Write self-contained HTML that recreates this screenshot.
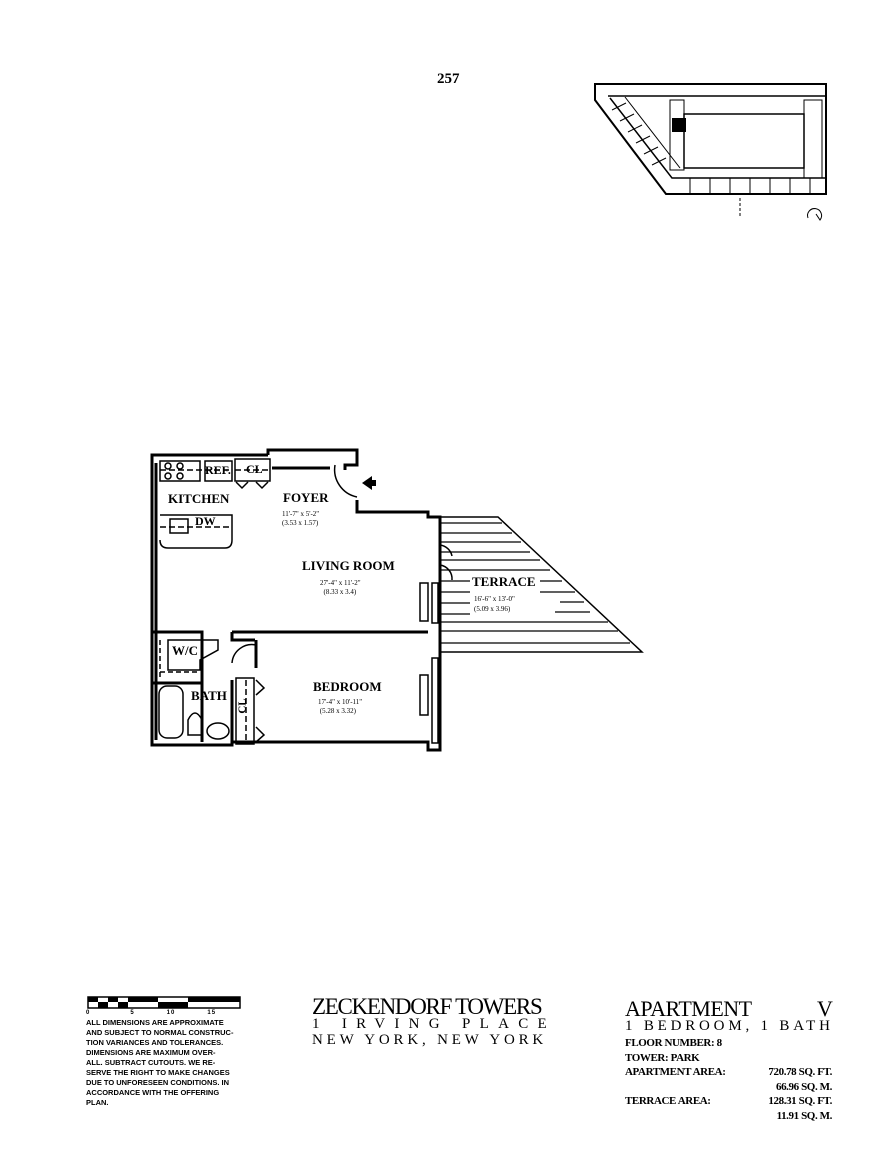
<!DOCTYPE html>
<html><head><meta charset="utf-8"><style>
body{margin:0;background:#fff;}
.p{position:relative;width:884px;height:1152px;overflow:hidden;background:#fff;}
svg{position:absolute;left:0;top:0}
.t{position:absolute;font-family:"Liberation Serif",serif;color:#000;white-space:nowrap}
.s{font-family:"Liberation Sans",sans-serif;font-weight:bold;}
</style></head><body><div class="p">
<svg width="884" height="1152" viewBox="0 0 884 1152" fill="none" stroke="#000">
<g stroke-width="2">
<polygon points="595,84 826,84 826,194 666,194 595,100" />
<polyline points="608,96 826,96" stroke-width="1.5"/>
<polyline points="610,98 672,178 826,178" stroke-width="1.5"/>
<polyline points="625,97 680,168" stroke-width="1"/>
<rect x="684" y="114" width="120" height="54" stroke-width="1.5"/>
<rect x="670" y="100" width="14" height="70" stroke-width="1"/>
<rect x="804" y="100" width="18" height="78" stroke-width="1"/>
</g>
<g stroke-width="1">
<line x1="612" y1="110" x2="626" y2="103"/><line x1="620" y1="121" x2="634" y2="114"/><line x1="628" y1="132" x2="642" y2="125"/><line x1="636" y1="143" x2="650" y2="136"/><line x1="644" y1="154" x2="658" y2="147"/><line x1="652" y1="165" x2="666" y2="158"/>
<line x1="690" y1="178" x2="690" y2="194"/><line x1="710" y1="178" x2="710" y2="194"/><line x1="730" y1="178" x2="730" y2="194"/><line x1="750" y1="178" x2="750" y2="194"/><line x1="770" y1="178" x2="770" y2="194"/><line x1="790" y1="178" x2="790" y2="194"/><line x1="810" y1="178" x2="810" y2="194"/>
<line x1="740" y1="198" x2="740" y2="218" stroke-dasharray="3,2"/>
<path d="M808,218 a7,7 0 1 1 12,2 l-4,-6"/>
</g>
<rect x="672" y="118" width="14" height="14" fill="#000" stroke="none"/>
<g stroke-width="3" stroke-linejoin="miter">
<polyline points="268,455 152,455 152,745 232,745 232,742 428,742 428,750 440,750 440,517 428,517 428,512 357,512 357,500"/>
<polyline points="268,455 268,450 357,450 357,465 345,465 345,470"/>
<polyline points="272,468 330,468"/>
<polyline points="156,463 156,740"/>
<polyline points="232,632 428,632"/>
<polyline points="232,632 232,640 255,640"/>
<polyline points="152,632 202,632 202,742"/>
<polyline points="232,680 232,742"/>
<polyline points="152,683 202,683"/>
<polyline points="256,640 256,668"/>
</g>
<g stroke-width="1.5">
<rect x="160" y="461" width="40" height="20"/>
<circle cx="168" cy="466" r="3"/><circle cx="180" cy="466" r="3"/><circle cx="168" cy="476" r="3"/><circle cx="180" cy="476" r="3"/>
<line x1="160" y1="470" x2="232" y2="470" stroke-dasharray="6,3"/>
<rect x="205" y="461" width="27" height="20"/>
<rect x="235" y="459" width="35" height="22"/>
<line x1="235" y1="470" x2="270" y2="470" stroke-dasharray="6,3"/>
<polyline points="236,482 242,488 248,482"/><polyline points="256,482 262,488 268,482"/>
<path d="M160,515 L232,515 L232,540 Q232,548 225,548 L168,548 Q160,548 160,540"/>
<rect x="170" y="519" width="18" height="14"/>
<line x1="160" y1="527" x2="232" y2="527" stroke-dasharray="6,3"/>
<path d="M335,465 A28,28 0 0 0 357,497"/>
<rect x="420" y="583" width="8" height="38"/>
<rect x="432" y="583" width="6" height="40"/>
<rect x="432" y="658" width="6" height="85"/>
<rect x="420" y="675" width="8" height="40"/>
<path d="M440,545 A14,14 0 0 1 452,556"/><path d="M440,565 A14,14 0 0 1 452,580"/>
<polyline points="440,517 498,517 642,652 440,652"/>
<g stroke-width="1.2">
<line x1="440" y1="542" x2="521" y2="542"/><line x1="440" y1="560" x2="540" y2="560"/><line x1="440" y1="581" x2="470" y2="581"/><line x1="540" y1="581" x2="562" y2="581"/>
<line x1="540" y1="592" x2="575" y2="592"/><line x1="560" y1="602" x2="584" y2="602"/><line x1="440" y1="603" x2="470" y2="603"/>
<line x1="555" y1="612" x2="590" y2="612"/><line x1="440" y1="614" x2="470" y2="614"/>
<line x1="440" y1="631" x2="618" y2="631"/><line x1="440" y1="643" x2="630" y2="643"/>
<line x1="440" y1="523" x2="502" y2="523"/><line x1="440" y1="533" x2="512" y2="533"/><line x1="440" y1="552" x2="530" y2="552"/><line x1="440" y1="570" x2="550" y2="570"/><line x1="440" y1="592" x2="470" y2="592"/><line x1="440" y1="622" x2="608" y2="622"/>
</g>
<path d="M168,640 L168,670 L200,670 L200,660 L218,650 L218,640 Z"/>
<line x1="160" y1="640" x2="160" y2="680" stroke-dasharray="5,3"/>
<line x1="160" y1="672" x2="200" y2="672" stroke-dasharray="5,3"/>
<path d="M232,663 A20,20 0 0 1 256,645" />
<rect x="159" y="686" width="24" height="52" rx="8"/>
<path d="M188,735 L188,720 Q195,706 202,720 L202,735 Z"/>
<ellipse cx="218" cy="731" rx="11" ry="8"/>
<rect x="236" y="678" width="18" height="66"/>
<line x1="246" y1="680" x2="246" y2="742" stroke-dasharray="6,3"/>
<polyline points="256,680 264,688 256,695"/><polyline points="256,727 264,735 256,742"/>
</g>
<polygon points="362,483 372,476 372,490" fill="#000" stroke="none"/>
<rect x="372" y="480" width="4" height="6" fill="#000" stroke="none"/>
<rect x="88" y="997" width="152" height="11" stroke-width="1.5"/>
<g fill="#000" stroke="none">
<rect x="88" y="997" width="10" height="5"/><rect x="108" y="997" width="10" height="5"/><rect x="98" y="1002" width="10" height="6"/><rect x="118" y="1002" width="10" height="6"/>
<rect x="128" y="997" width="30" height="5"/><rect x="158" y="1002" width="30" height="6"/><rect x="188" y="997" width="52" height="5"/>
</g>
</svg>
<div class="t" style="left:437px;top:71px;font-size:15px;font-weight:bold">257</div>
<div class="t" style="left:168px;top:491px;font-size:13px;font-weight:bold">KITCHEN</div>
<div class="t" style="left:283px;top:490px;font-size:13px;font-weight:bold">FOYER</div>
<div class="t" style="left:282px;top:510px;font-size:7px;line-height:9px">11'-7" x 5'-2"<br>(3.53 x 1.57)</div>
<div class="t" style="left:205px;top:463px;font-size:12px;font-weight:bold">REF.</div>
<div class="t" style="left:246px;top:462px;font-size:12px;font-weight:bold">CL</div>
<div class="t" style="left:195px;top:514px;font-size:12px;font-weight:bold">DW</div>
<div class="t" style="left:302px;top:558px;font-size:13px;font-weight:bold">LIVING ROOM</div>
<div class="t" style="left:320px;top:579px;font-size:7px;line-height:9px">27'-4" x 11'-2"<br>&nbsp;&nbsp;(8.33 x 3.4)</div>
<div class="t" style="left:472px;top:574px;font-size:13px;font-weight:bold">TERRACE</div>
<div class="t" style="left:474px;top:594px;font-size:7px;line-height:10px">16'-6" x 13'-0"<br>(5.09 x 3.96)</div>
<div class="t" style="left:172px;top:643px;font-size:13px;font-weight:bold">W/C</div>
<div class="t" style="left:191px;top:688px;font-size:13px;font-weight:bold">BATH</div>
<div class="t" style="left:235px;top:700px;font-size:11px;font-weight:bold;transform:rotate(-90deg)">CL</div>
<div class="t" style="left:313px;top:679px;font-size:13px;font-weight:bold">BEDROOM</div>
<div class="t" style="left:318px;top:698px;font-size:7px;line-height:9px">17'-4" x 10'-11"<br>&nbsp;(5.28 x 3.32)</div>
<div class="t s" style="left:86px;top:1010px;font-size:6px;letter-spacing:1px">0&nbsp;&nbsp;&nbsp;&nbsp;&nbsp;&nbsp;&nbsp;&nbsp;&nbsp;&nbsp;&nbsp;&nbsp;&nbsp;&nbsp;&nbsp;5&nbsp;&nbsp;&nbsp;&nbsp;&nbsp;&nbsp;&nbsp;&nbsp;&nbsp;&nbsp;&nbsp;&nbsp;10&nbsp;&nbsp;&nbsp;&nbsp;&nbsp;&nbsp;&nbsp;&nbsp;&nbsp;&nbsp;&nbsp;&nbsp;15</div>
<div class="t s" style="left:86px;top:1019px;font-size:7px;line-height:10px;transform:scaleX(1.07);transform-origin:left">ALL DIMENSIONS ARE APPROXIMATE<br>AND SUBJECT TO NORMAL CONSTRUC-<br>TION VARIANCES AND TOLERANCES.<br>DIMENSIONS ARE MAXIMUM OVER-<br>ALL. SUBTRACT CUTOUTS. WE RE-<br>SERVE THE RIGHT TO MAKE CHANGES<br>DUE TO UNFORESEEN CONDITIONS. IN<br>ACCORDANCE WITH THE OFFERING<br>PLAN.</div>
<div class="t" style="left:312px;top:994px;font-size:23px;letter-spacing:-1.3px">ZECKENDORF TOWERS</div>
<div class="t" style="left:312px;top:1016px;font-size:15px;letter-spacing:9.3px">1 IRVING PLACE</div>
<div class="t" style="left:312px;top:1032px;font-size:15px;letter-spacing:3.8px">NEW YORK, NEW YORK</div>
<div class="t" style="left:625px;top:996px;font-size:22px;letter-spacing:-0.5px">APARTMENT</div>
<div class="t" style="left:817px;top:996px;font-size:22px">V</div>
<div class="t" style="left:625px;top:1018px;font-size:15px;letter-spacing:3.8px">1 BEDROOM, 1 BATH</div>
<div class="t" style="left:625px;top:1036px;font-size:11px;line-height:14.5px;font-weight:bold;letter-spacing:-0.4px">FLOOR NUMBER: 8<br>TOWER: PARK<br>APARTMENT AREA:<br><br>TERRACE AREA:</div>
<div class="t" style="left:740px;top:1065px;font-size:11px;line-height:14.5px;font-weight:bold;text-align:right;width:92px;letter-spacing:-0.4px">720.78 SQ. FT.<br>66.96 SQ. M.<br>128.31 SQ. FT.<br>11.91 SQ. M.</div>
</div></body></html>
